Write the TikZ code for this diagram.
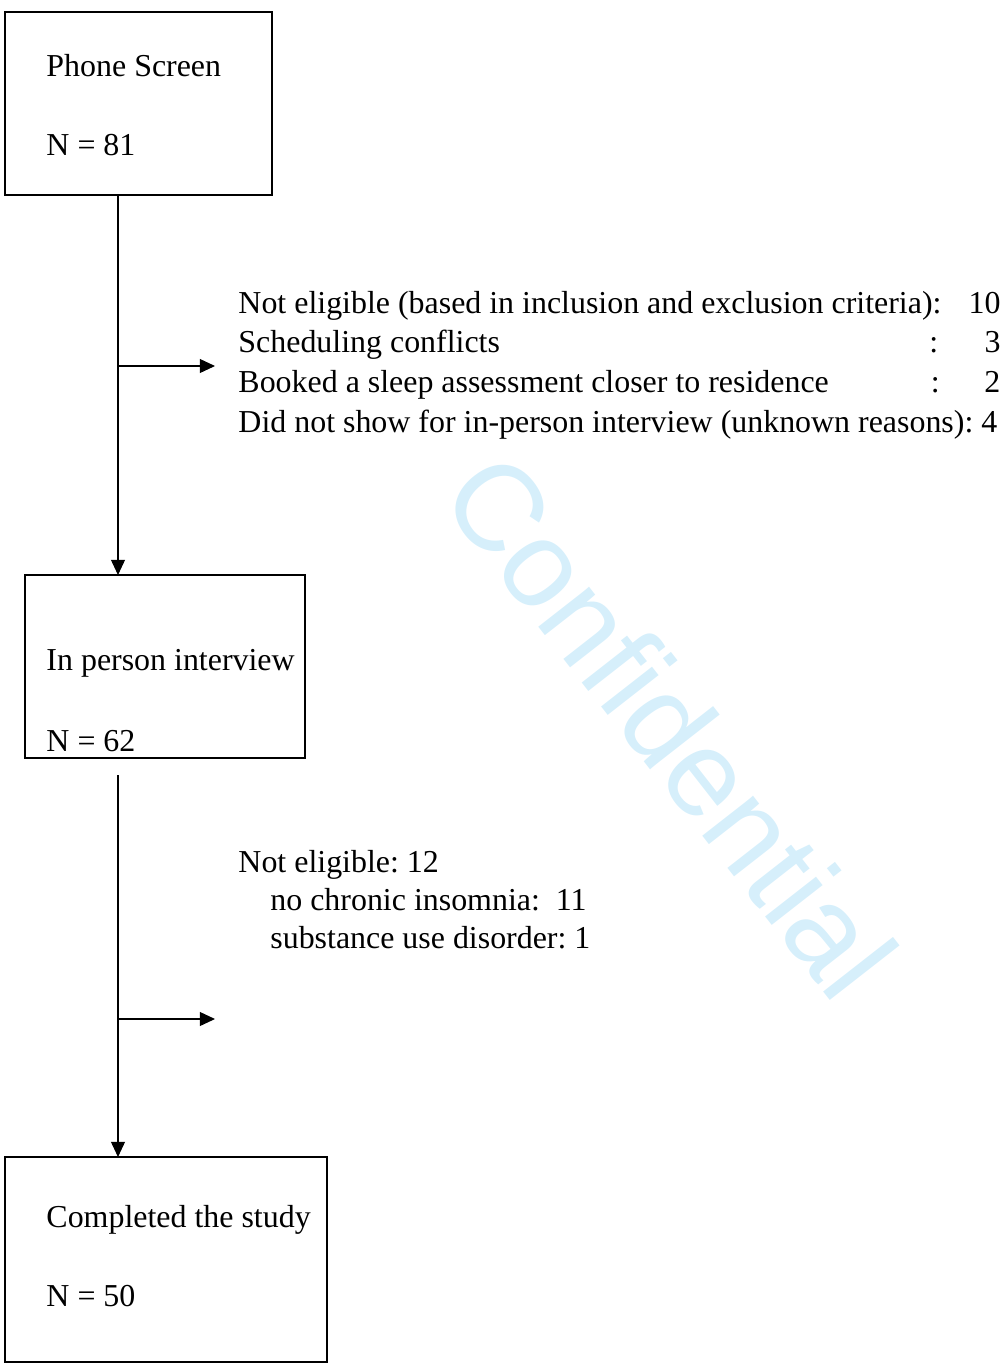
\documentclass[tikz,border=0pt]{standalone}
\usepackage{fontspec}
\setmainfont{Liberation Serif}
\newfontfamily\stampfont{Liberation Sans}
\usetikzlibrary{arrows.meta}
\definecolor{stampblue}{RGB}{214,239,251}
\frenchspacing
\tikzset{
    box/.style={draw=black, line width=0.85pt, inner sep=0pt, outer sep=0pt},
    boxtext/.style={anchor=base west, inner sep=0pt, font=\fontsize{13.3}{16}\selectfont},
    flow/.style={black, line width=0.45pt, -{Triangle[length=6.3pt,width=5.8pt]}},
    note/.style={anchor=base west, inner sep=0pt, align=left}
}
\begin{document}
\begin{tikzpicture}[x=0.41667pt, y=-0.41667pt]
            \useasboundingbox (0,0) rectangle (1004,1364);

            \node[text=stampblue, rotate=-52, inner sep=0pt,
                  font=\stampfont\fontsize{51}{60}\selectfont] (stamp) at (671,725) {Confidential};

            \node[box, minimum width=267*0.41667pt, minimum height=183*0.41667pt] (phone) at (138.5,103.5) {};
            \node[box, minimum width=280*0.41667pt, minimum height=183*0.41667pt] (interview) at (165,666.5) {};
            \node[box, minimum width=322*0.41667pt, minimum height=205*0.41667pt] (completed) at (166,1259.5) {};

            \node[boxtext] (phonelbl) at (46,76) {Phone Screen};
            \node[boxtext] (phonen) at (46,155) {N = 81};
            \node[boxtext] (interviewlbl) at (46,670) {In person interview};
            \node[boxtext] (interviewn) at (46,751) {N = 62};
            \node[boxtext] (completedlbl) at (46,1227) {Completed the study};
            \node[boxtext] (completedn) at (46,1306) {N = 50};

            \coordinate (split1) at (118,366);
            \coordinate (tip1) at (215,366);
            \coordinate (top2) at (118,775);
            \coordinate (split2) at (118,1019);
            \coordinate (tip2) at (215,1019);

            \draw[flow] (phone.south -| split1) -- (split1 |- interview.north);
            \draw[flow] (split1) -- (tip1);
            \draw[flow] (top2) -- (split2 |- completed.north);
            \draw[flow] (split2) -- (tip2);

            \node[note, text width=762*0.41667pt, font=\fontsize{13.3}{16.6}\selectfont] (reasons1) at (238,313)
                {\spaceskip=0pt\xspaceskip=0pt
                 Not eligible (based in inclusion and exclusion criteria):\hfill 10\\
                 Scheduling conflicts\hfill :\makebox[1.95em][r]{3}\\
                 Booked a sleep assessment closer to residence\hfill :\makebox[1.9em][r]{2}\\
                 Did not show for in-person interview (unknown reasons): 4};

            \node[note, text width=420*0.41667pt, font=\fontsize{13.3}{16}\selectfont] (reasons2) at (238,872)
                {\spaceskip=0pt\xspaceskip=0pt
                 Not eligible: 12\\
                 \hspace*{13.3pt}no chronic insomnia:~ 11\\
                 \hspace*{13.3pt}substance use disorder: 1};
        \end{tikzpicture}
\end{document}
